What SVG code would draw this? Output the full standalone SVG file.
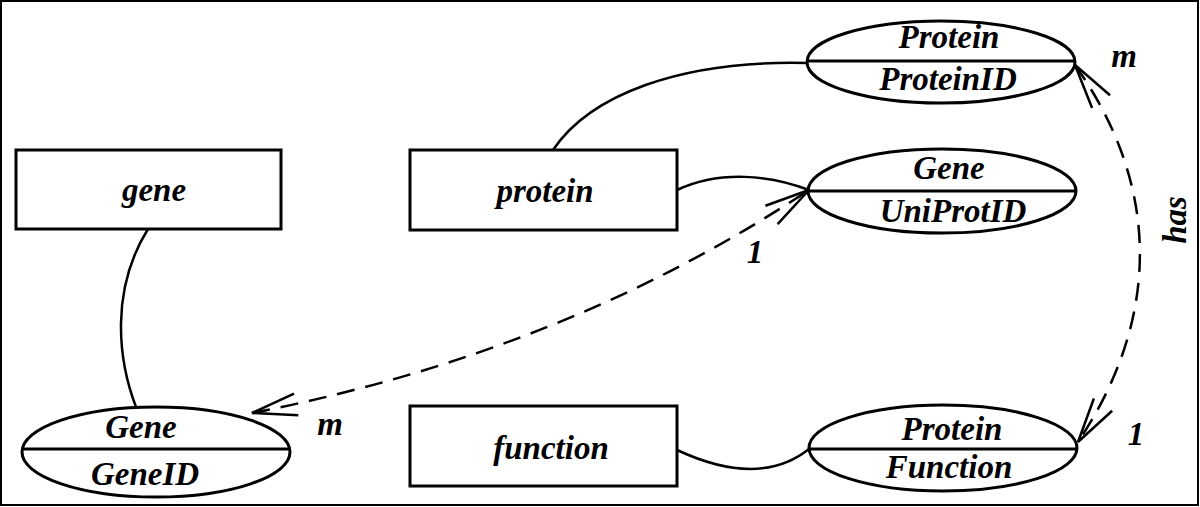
<svg xmlns="http://www.w3.org/2000/svg" width="1200" height="507" viewBox="0 0 1200 507">
<style>
.box{fill:#fff;stroke:#000;stroke-width:3}
.ell{fill:#fff;stroke:#000;stroke-width:3}
.div{stroke:#000;stroke-width:3}
text{font-family:"Liberation Serif","Times New Roman",serif;font-weight:bold;font-style:italic;font-size:33px;fill:#000;text-anchor:middle}
.solid{fill:none;stroke:#000;stroke-width:2.5}
.dash{fill:none;stroke:#000;stroke-width:2.5;stroke-dasharray:18 11}
</style>
<defs>
<marker id="open" markerUnits="userSpaceOnUse" markerWidth="60" markerHeight="40" viewBox="-50 -20 60 40" refX="0" refY="0" orient="auto-start-reverse">
<path d="M-45,-11 L0,0 L-45,11" fill="none" stroke="#000" stroke-width="2.5"/>
</marker>
</defs>
<rect x="1" y="1" width="1197" height="504" fill="#fff" stroke="#000" stroke-width="2"/>
<g id="connectors">
<path class="solid" d="M148,229 C110,290 118,360 136,407"/>
<path class="solid" d="M553,150 C590,95 680,60 807,63"/>
<path class="solid" d="M677,190 C720,170 770,175 809,190"/>
<path class="solid" d="M677,450 C720,470 770,480 809,449"/>
<path class="dash" d="M252,413 Q565,352 809,190" marker-start="url(#open)" marker-end="url(#open)"/>
<path class="dash" d="M1075,65 C1161,186 1161,318 1078,442" marker-start="url(#open)" marker-end="url(#open)"/>
</g>
<g id="gene"><rect class="box" x="16" y="150" width="265" height="79"/><text x="154" y="201">gene</text></g>
<g id="protein"><rect class="box" x="410" y="150" width="267" height="80"/><text x="545" y="202">protein</text></g>
<g id="function"><rect class="box" x="410" y="406" width="267" height="80"/><text x="551" y="459">function</text></g>
<g id="protein-proteinid"><ellipse class="ell" cx="941" cy="62" rx="134" ry="41"/><line class="div" x1="807" y1="61" x2="1075" y2="61"/><text x="949" y="48">Protein</text><text x="948" y="90">ProteinID</text></g>
<g id="gene-uniprotid"><ellipse class="ell" cx="942" cy="191" rx="134" ry="42"/><line class="div" x1="808" y1="191" x2="1076" y2="191"/><text x="949" y="179">Gene</text><text x="953" y="222">UniProtID</text></g>
<g id="gene-geneid"><ellipse class="ell" cx="156" cy="452" rx="134" ry="45"/><line class="div" x1="22" y1="449" x2="290" y2="449"/><text x="141" y="438">Gene</text><text x="145" y="485">GeneID</text></g>
<g id="protein-function"><ellipse class="ell" cx="943" cy="448" rx="134" ry="43"/><line class="div" x1="809" y1="449" x2="1077" y2="449"/><text x="952" y="440">Protein</text><text x="949" y="478">Function</text></g>
<g id="labels">
<text x="1124" y="67">m</text>
<text x="1136" y="445">1</text>
<text x="755" y="263">1</text>
<text x="330" y="435">m</text>
<text transform="translate(1186,220) rotate(-90)">has</text>
</g>
</svg>
